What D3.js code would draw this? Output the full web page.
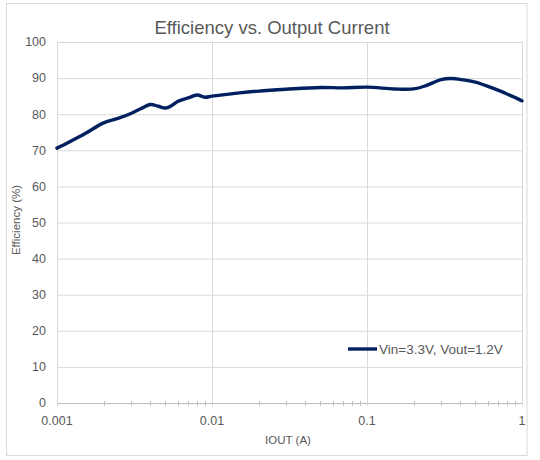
<!DOCTYPE html>
<html>
<head>
<meta charset="utf-8">
<script src="https://cdn.jsdelivr.net/npm/d3@7"></script>
<style>
  html, body { margin: 0; padding: 0; background: #fff; }
  svg { display: block; }
  text { font-family: "Liberation Sans", Arial, sans-serif; fill: #595959; }
</style>
</head>
<body>
<svg id="chart" width="540" height="460"></svg>
<script>
// ---- Data ----
const current = [0.001, 0.0012, 0.0015, 0.002, 0.0025, 0.003, 0.0035, 0.004, 0.0045,
                 0.005, 0.0055, 0.006, 0.007, 0.008, 0.009, 0.01, 0.015, 0.02, 0.03,
                 0.05, 0.07, 0.1, 0.15, 0.2, 0.24, 0.3, 0.35, 0.42, 0.5, 0.65, 0.8, 1];
const efficiency = [70.6, 72.3, 74.5, 77.6, 78.9, 80.2, 81.6, 82.7, 82.2,
                    81.7, 82.4, 83.5, 84.5, 85.3, 84.7, 85.0, 85.9, 86.4, 86.9,
                    87.4, 87.3, 87.5, 87.0, 87.0, 87.9, 89.6, 89.9, 89.5, 88.9, 87.2, 85.6, 83.7];
const seriesName = "Vin=3.3V, Vout=1.2V";
const xTicks = [0.001, 0.01, 0.1, 1];
const xTickLabels = ["0.001", "0.01", "0.1", "1"];
const yTicks = [0, 10, 20, 30, 40, 50, 60, 70, 80, 90, 100];
const titleText = "Efficiency vs. Output Current";
const xTitle = "IOUT (A)";
const yTitle = "Efficiency (%)";

(function () {
// ---- Layout ----
const svg = d3.select("#chart");
const pL = 57, pR = 522, pT = 42, pB = 403;

svg.append("rect").attr("x", 6.5).attr("y", 3.5).attr("width", 520.5).attr("height", 452)
  .attr("fill", "#fff").attr("stroke", "#d9d9d9").attr("stroke-width", 1);

const x = d3.scaleLog().domain([0.001, 1]).range([pL, pR]);
const y = d3.scaleLinear().domain([0, 100]).range([pB, pT]);

// horizontal gridlines
svg.append("g").selectAll("line").data(yTicks.filter(d => d > 0)).join("line")
  .attr("x1", pL).attr("x2", pR)
  .attr("y1", d => y(d) + 0.5).attr("y2", d => y(d) + 0.5)
  .attr("stroke", "#d9d9d9").attr("stroke-width", 1);

// vertical gridlines at decades
svg.append("g").selectAll("line").data(xTicks).join("line")
  .attr("x1", d => Math.round(x(d)) + 0.5).attr("x2", d => Math.round(x(d)) + 0.5)
  .attr("y1", pT).attr("y2", pB + 3)
  .attr("stroke", "#d9d9d9").attr("stroke-width", 1);

// x axis line with minor ticks
const minor = [];
for (let dec = 0.001; dec < 1; dec *= 10) {
  for (let k = 2; k <= 9; k++) minor.push(+(dec * k).toPrecision(3));
}
svg.append("line").attr("x1", pL).attr("x2", pR)
  .attr("y1", pB + 0.5).attr("y2", pB + 0.5)
  .attr("stroke", "#bfbfbf").attr("stroke-width", 1);
svg.append("g").selectAll("line").data(minor).join("line")
  .attr("x1", d => Math.round(x(d)) + 0.5).attr("x2", d => Math.round(x(d)) + 0.5)
  .attr("y1", pB - 2).attr("y2", pB + 3)
  .attr("stroke", "#bfbfbf").attr("stroke-width", 1);

// y tick labels
svg.append("g").selectAll("text").data(yTicks).join("text")
  .attr("x", 46).attr("y", d => y(d)).attr("dy", "0.35em")
  .attr("text-anchor", "end").attr("font-size", 12.5)
  .text(d => d);

// x tick labels
svg.append("g").selectAll("text").data(xTicks).join("text")
  .attr("x", d => x(d)).attr("y", pB + 22)
  .attr("text-anchor", "middle").attr("font-size", 12.5)
  .text((d, i) => xTickLabels[i]);

// titles
svg.append("text").attr("x", 272).attr("y", 34).attr("text-anchor", "middle")
  .attr("font-size", 18.5).text(titleText);
svg.append("text").attr("x", 288).attr("y", 444).attr("text-anchor", "middle")
  .attr("font-size", 11.5).text(xTitle);
svg.append("text").attr("transform", "translate(20,220) rotate(-90)")
  .attr("text-anchor", "middle").attr("font-size", 11.5).text(yTitle);

// series line
const pts = current.map((c, i) => [c, efficiency[i]]);
const line = d3.line().x(d => x(d[0])).y(d => y(d[1])).curve(d3.curveCatmullRom.alpha(0.5));
svg.append("path").datum(pts).attr("d", line)
  .attr("fill", "none").attr("stroke", "#002060").attr("stroke-width", 3.4)
  .attr("stroke-linejoin", "round").attr("stroke-linecap", "round");

// legend
svg.append("line").attr("x1", 348).attr("x2", 377).attr("y1", 349).attr("y2", 349)
  .attr("stroke", "#002060").attr("stroke-width", 3.4);
svg.append("text").attr("x", 379).attr("y", 349).attr("dy", "0.35em")
  .attr("font-size", 13.5).text(seriesName);
})();
</script>
</body>
</html>
